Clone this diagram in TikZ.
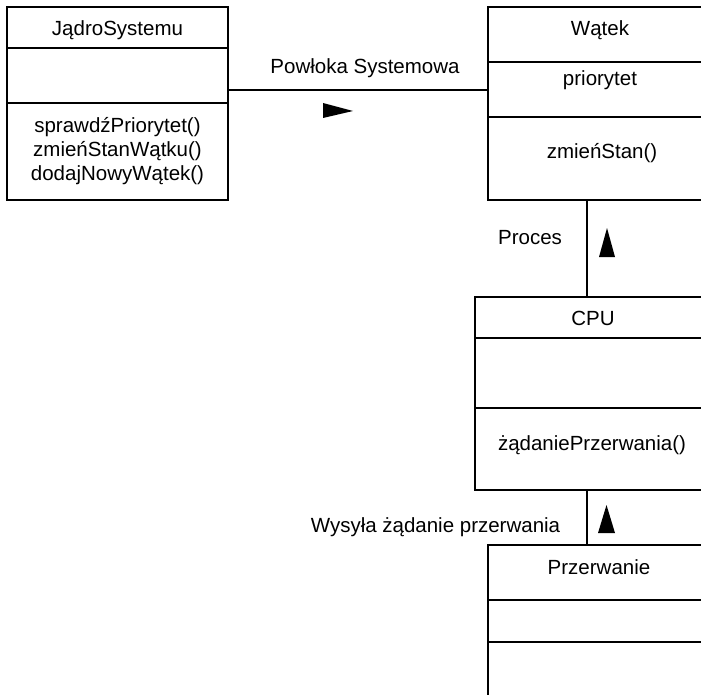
\documentclass[tikz,border=0pt]{standalone}
\usepackage{fontspec}
\setmainfont{Liberation Sans}
\usetikzlibrary{calc}
\begin{document}
\begin{tikzpicture}[x=1pt,y=-1pt,
  comp/.style={draw=black,line width=2.6pt,fill=white,inner sep=0pt},
  txt/.style={inner sep=0pt,font=\fontsize{20.5}{24}\selectfont,align=center},
  link/.style={draw=black,line width=2.6pt},
  tri/.style={fill=black}]
\useasboundingbox (0,0) rectangle (701,695);
\clip (0,0) rectangle (701,695);

% class JadroSystemu
\node[comp,minimum width=221pt,minimum height=41pt] (jadro-name) at (117.5,27.5) {};
\node[comp,minimum width=221pt,minimum height=55pt] (jadro-attr) at (117.5,75.5) {};
\node[comp,minimum width=221pt,minimum height=97pt] (jadro-ops)  at (117.5,151.5) {};
\node[txt] (jadro-t) at (117.5,30) {JądroSystemu};
\node[txt] (jadro-m) at (117.5,151) {sprawdźPriorytet()\\zmieńStanWątku()\\dodajNowyWątek()};

% class Watek
\node[comp,minimum width=224pt,minimum height=55pt] (watek-name) at (600,34.5) {};
\node[comp,minimum width=224pt,minimum height=55pt] (watek-attr) at (600,89.5) {};
\node[comp,minimum width=224pt,minimum height=83pt] (watek-ops)  at (600,158.5) {};
\node[txt] (watek-t) at (600,30) {Wątek};
\node[txt] (watek-a) at (600,80) {priorytet};
\node[txt] (watek-m) at (602,153) {zmieńStan()};

% class CPU
\node[comp,minimum width=236pt,minimum height=41pt] (cpu-name) at (593,317.5) {};
\node[comp,minimum width=236pt,minimum height=70pt] (cpu-attr) at (593,373) {};
\node[comp,minimum width=236pt,minimum height=82pt] (cpu-ops)  at (593,449) {};
\node[txt] (cpu-t) at (593,318) {CPU};
\node[txt] (cpu-m) at (592,445) {żądaniePrzerwania()};

% class Przerwanie
\node[comp,minimum width=222pt,minimum height=55pt] (prz-name) at (599,572.5) {};
\node[comp,minimum width=222pt,minimum height=42pt] (prz-attr) at (599,621) {};
\node[comp,minimum width=222pt,minimum height=98pt] (prz-ops)  at (599,691) {};
\node[txt] (prz-t) at (599,567) {Przerwanie};

% association JadroSystemu -- Watek
\draw[link] (jadro-attr.east) ++(0,14.5) coordinate (a1) -- (a1 -| watek-attr.west);
\node[txt] (a1-label) at (365,68) {Powłoka Systemowa};
\fill[tri] (323,103) -- (353,111) -- (323,118) -- cycle;

% association Watek -- CPU
\coordinate (a2) at ($(cpu-name.north)+(-6,0)$);
\draw[link] (a2 |- watek-ops.south) -- (a2);
\node[txt] (a2-label) at (530,238) {Proces};
\fill[tri] (599,257) -- (607,228) -- (615,257) -- cycle;

% association CPU -- Przerwanie
\coordinate (a3) at ($(cpu-ops.south)+(-6,0)$);
\draw[link] (a3) -- (a3 |- prz-name.north);
\node[txt] (a3-label) at (435.5,527) {Wysyła żądanie przerwania};
\fill[tri] (598,533) -- (606.5,505) -- (615,533) -- cycle;
\end{tikzpicture}
\end{document}
